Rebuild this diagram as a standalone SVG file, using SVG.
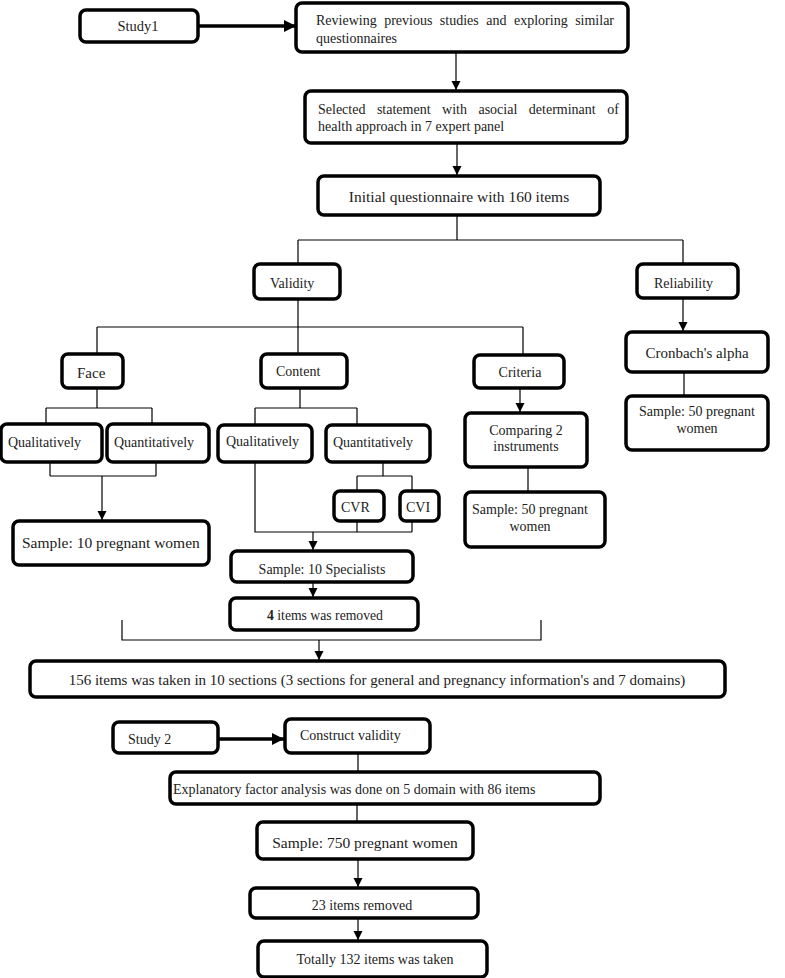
<svg xmlns="http://www.w3.org/2000/svg" width="785" height="978" viewBox="0 0 785 978">
<defs>
<style>
.b{fill:#fff;stroke:#000;stroke-width:3.5}
.t{font-family:"Liberation Serif","Times New Roman",serif;fill:#222;font-size:14px}
.m{text-anchor:middle}
.c line,.c path{stroke:#000;stroke-width:1.2;fill:none}
.c .k{stroke-width:3.5}
</style>
<marker id="a" markerUnits="userSpaceOnUse" markerWidth="10" markerHeight="10" refX="9" refY="4.5" orient="auto"><path d="M0,0 L9,4.5 L0,9 z" fill="#000"/></marker>
<marker id="A" markerUnits="userSpaceOnUse" markerWidth="14" markerHeight="14" refX="12" refY="6" orient="auto"><path d="M0,0 L12,6 L0,12 z" fill="#000"/></marker>
</defs>
<rect width="785" height="978" fill="#fff"/>
<g class="c">
<line class="k" x1="198" y1="26" x2="296" y2="26" marker-end="url(#A)"/>
<line x1="456" y1="52" x2="456" y2="90" marker-end="url(#a)"/>
<line x1="457" y1="143" x2="457" y2="175" marker-end="url(#a)"/>
<path d="M457,215 V240 M298,240 H683 M298,240 V264 M683,240 V264"/>
<path d="M298,299 V327 M97,327 H523 M97,327 V354 M298,327 V354 M523,327 V355"/>
<line x1="683" y1="298" x2="683" y2="331" marker-end="url(#a)"/>
<path d="M684,372 V396"/>
<line x1="520" y1="388" x2="520" y2="412" marker-end="url(#a)"/>
<path d="M528,467 V492"/>
<path d="M97,388 V408 M46,408 H152 M46,408 V424 M152,408 V424"/>
<path d="M50,462 V476 M156,462 V476 M50,476 H156"/>
<line x1="102" y1="476" x2="102" y2="520" marker-end="url(#a)"/>
<path d="M300,388 V408 M255,408 H357 M255,408 V425 M357,408 V425"/>
<path d="M383,462 V476 M357,476 H412 M357,476 V491 M412,476 V491"/>
<path d="M255,462 V532 H412 M357,521 V532 M412,521 V532"/>
<line x1="313" y1="532" x2="313" y2="550" marker-end="url(#a)"/>
<line x1="313" y1="582" x2="313" y2="597" marker-end="url(#a)"/>
<path d="M122,620 V640 H541 V620"/>
<line x1="319" y1="640" x2="319" y2="660" marker-end="url(#a)"/>
<line class="k" x1="218" y1="739" x2="284" y2="739" marker-end="url(#A)"/>
<path d="M358,753 V772 M357,804 V822"/>
<line x1="358" y1="859" x2="358" y2="887" marker-end="url(#a)"/>
<line x1="358" y1="918" x2="358" y2="940" marker-end="url(#a)"/>
</g>
<g id="study1"><rect class="b" x="80" y="10" width="118" height="32" rx="6"/><text class="t m" x="138" y="31" style="font-size:14.5px">Study1</text></g>
<g id="reviewing"><rect class="b" x="296" y="3" width="332" height="49" rx="6"/><text class="t" x="316" y="25" word-spacing="4">Reviewing previous studies and exploring similar</text><text class="t" x="316" y="43">questionnaires</text></g>
<g id="selected"><rect class="b" x="305" y="91" width="322" height="52" rx="6"/><text class="t" x="318" y="114" word-spacing="8">Selected statement with asocial determinant of</text><text class="t" x="318" y="131">health approach in 7 expert panel</text></g>
<g id="initial"><rect class="b" x="318" y="176" width="282" height="39" rx="6"/><text class="t m" x="459" y="202" style="font-size:15.5px">Initial questionnaire with 160 items</text></g>
<g id="validity"><rect class="b" x="254" y="264" width="86" height="35" rx="6"/><text class="t" x="270" y="288">Validity</text></g>
<g id="reliability"><rect class="b" x="637" y="264" width="101" height="34" rx="6"/><text class="t" x="654" y="288">Reliability</text></g>
<g id="face"><rect class="b" x="62" y="354" width="61" height="34" rx="6"/><text class="t" x="77" y="378" style="font-size:15px">Face</text></g>
<g id="content"><rect class="b" x="261" y="354" width="86" height="34" rx="6"/><text class="t" x="276" y="376">Content</text></g>
<g id="criteria"><rect class="b" x="474" y="355" width="90" height="33" rx="6"/><text class="t m" x="520" y="377">Criteria</text></g>
<g id="cronbach"><rect class="b" x="626" y="332" width="142" height="40" rx="6"/><text class="t m" x="697" y="358" style="font-size:15px">Cronbach's alpha</text></g>
<g id="sample50r"><rect class="b" x="626" y="396" width="142" height="54" rx="6"/><text class="t m" x="697" y="416">Sample: 50 pregnant</text><text class="t m" x="697" y="433">women</text></g>
<g id="qual1"><rect class="b" x="1" y="424" width="101" height="38" rx="6"/><text class="t" x="8" y="447">Qualitatively</text></g>
<g id="quant1"><rect class="b" x="107" y="424" width="102" height="38" rx="6"/><text class="t" x="114" y="447">Quantitatively</text></g>
<g id="sample10"><rect class="b" x="13" y="521" width="196" height="44" rx="6"/><text class="t" x="22" y="548" style="font-size:15.5px">Sample: 10 pregnant women</text></g>
<g id="qual2"><rect class="b" x="218" y="425" width="94" height="37" rx="6"/><text class="t" x="226" y="446">Qualitatively</text></g>
<g id="quant2"><rect class="b" x="326" y="425" width="104" height="37" rx="6"/><text class="t" x="333" y="447">Quantitatively</text></g>
<g id="cvr"><rect class="b" x="334" y="491" width="50" height="30" rx="6"/><text class="t" x="341" y="512">CVR</text></g>
<g id="cvi"><rect class="b" x="400" y="491" width="39" height="30" rx="6"/><text class="t" x="406" y="512">CVI</text></g>
<g id="comparing"><rect class="b" x="465" y="413" width="122" height="54" rx="6"/><text class="t m" x="526" y="435">Comparing 2</text><text class="t m" x="526" y="451">instruments</text></g>
<g id="sample50c"><rect class="b" x="465" y="492" width="140" height="55" rx="6"/><text class="t" x="472" y="514">Sample: 50 pregnant</text><text class="t m" x="530" y="531">women</text></g>
<g id="specialists"><rect class="b" x="231" y="551" width="182" height="31" rx="6"/><text class="t m" x="322" y="574">Sample: 10 Specialists</text></g>
<g id="removed4"><rect class="b" x="230" y="598" width="188" height="32" rx="6"/><text class="t m" x="325" y="620" style="font-size:13.7px"><tspan font-weight="bold">4</tspan> items was removed</text></g>
<g id="items156"><rect class="b" x="30" y="661" width="695" height="36" rx="6"/><text class="t m" x="377" y="685" style="font-size:15px">156 items was taken in 10 sections (3 sections for general and pregnancy information's and 7 domains)</text></g>
<g id="study2"><rect class="b" x="113" y="722" width="105" height="31" rx="6"/><text class="t" x="128" y="744">Study 2</text></g>
<g id="construct"><rect class="b" x="285" y="719" width="145" height="34" rx="6"/><text class="t" x="300" y="740">Construct validity</text></g>
<g id="explanatory"><rect class="b" x="170" y="772" width="430" height="32" rx="6"/><text class="t" x="173" y="794">Explanatory factor analysis was done on 5 domain with 86 items</text></g>
<g id="sample750"><rect class="b" x="257" y="822" width="216" height="37" rx="6"/><text class="t m" x="365" y="848" style="font-size:15.5px">Sample: 750 pregnant women</text></g>
<g id="removed23"><rect class="b" x="250" y="888" width="228" height="30" rx="6"/><text class="t m" x="362" y="910">23 items removed</text></g>
<g id="totally"><rect class="b" x="258" y="941" width="229" height="36" rx="6"/><text class="t m" x="375" y="964">Totally 132 items was taken</text></g>
</svg>
